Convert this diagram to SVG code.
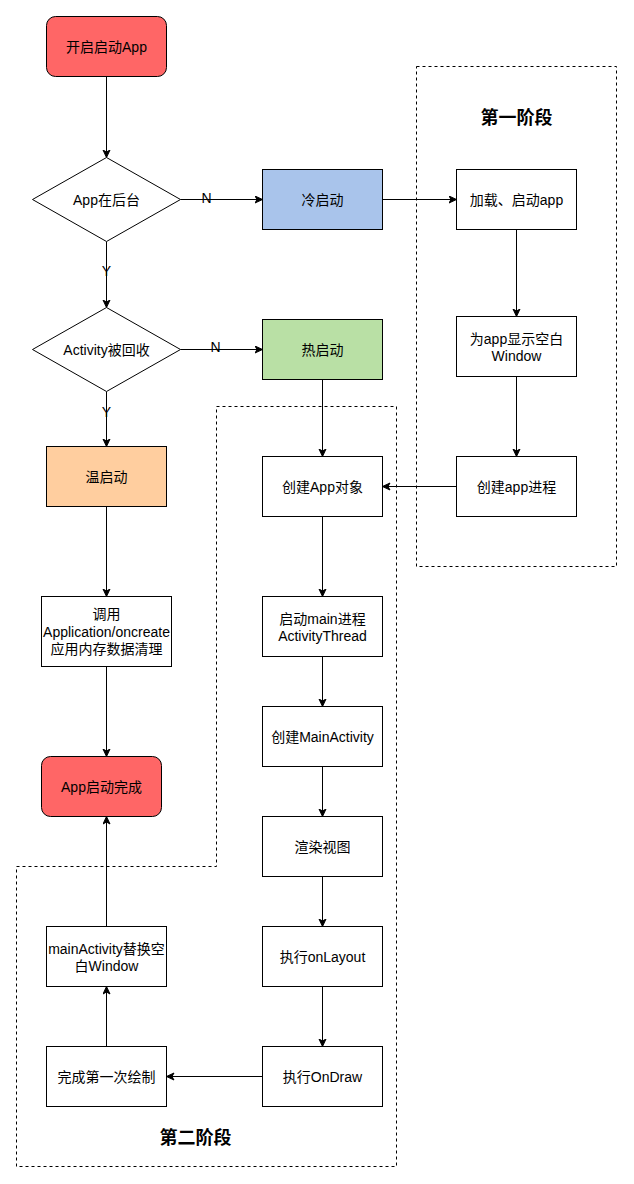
<svg xmlns="http://www.w3.org/2000/svg" width="634" height="1184" viewBox="0 0 634 1184">
<style>
.box{stroke:#000;stroke-width:1;}
.t{font-family:"Liberation Sans","Noto Sans CJK SC",sans-serif;font-size:14px;fill:#000;text-anchor:middle;}
.l{font-family:"Liberation Sans","Noto Sans CJK SC",sans-serif;font-size:14px;fill:#000;text-anchor:middle;}
.b{font-family:"Liberation Sans","Noto Sans CJK SC",sans-serif;font-size:18px;font-weight:bold;fill:#000;text-anchor:middle;}
.e{stroke:#000;stroke-width:1;fill:none;marker-end:url(#arr);}
.d{stroke:#000;stroke-width:1;fill:none;stroke-dasharray:3 3;}
</style>
<defs>
<marker id="arr" markerUnits="userSpaceOnUse" markerWidth="10" markerHeight="10" refX="8" refY="4" orient="auto">
<path d="M0.5,0.5 L8,4 L0.5,7.5 L2.5,4 Z" fill="#000" stroke="#000" stroke-width="1"/>
</marker>
</defs>
<rect width="634" height="1184" fill="#fff"/>
<g transform="translate(0.5,0.5)">
<g id="stage1-frame"><rect class="d" x="416" y="66" width="200" height="500"/><text class="b" x="516" y="123">第一阶段</text></g>
<g id="stage2-frame"><path class="d" d="M216,406 L396,406 L396,1166 L16,1166 L16,866 L216,866 Z"/><text class="b" x="195" y="1143">第二阶段</text></g>

<g id="connectors">
<path class="e" d="M106,76 L106,157"/>
<path class="e" d="M180,199 L262,199"/>
<text class="l" x="206" y="202">N</text>
<path class="e" d="M106,241 L106,307"/>
<text class="l" x="106" y="275">Y</text>
<path class="e" d="M180,349 L262,349"/>
<text class="l" x="215" y="351">N</text>
<path class="e" d="M106,391 L106,446"/>
<text class="l" x="106" y="416">Y</text>
<path class="e" d="M382,199 L456,199"/>
<path class="e" d="M516,229 L516,316"/>
<path class="e" d="M516,376 L516,456"/>
<path class="e" d="M456,486 L382,486"/>
<path class="e" d="M322,379 L322,456"/>
<path class="e" d="M322,516 L322,596"/>
<path class="e" d="M322,656 L322,706"/>
<path class="e" d="M322,766 L322,816"/>
<path class="e" d="M322,876 L322,926"/>
<path class="e" d="M322,986 L322,1046"/>
<path class="e" d="M262,1076 L166,1076"/>
<path class="e" d="M106,1046 L106,986"/>
<path class="e" d="M106,926 L106,816"/>
<path class="e" d="M106,506 L106,596"/>
<path class="e" d="M106,666 L106,756"/>
</g>

<g id="start"><rect class="box" x="46" y="16" width="120" height="60" rx="9" fill="#FF6666"/><text class="t" x="106" y="51">开启启动App</text></g>
<g id="d1"><path class="box" d="M106,157 L180,199 L106,241 L32,199 Z" fill="#fff"/><text class="t" x="106" y="204">App在后台</text></g>
<g id="d2"><path class="box" d="M106,307 L180,349 L106,391 L32,349 Z" fill="#fff"/><text class="t" x="106" y="354">Activity被回收</text></g>
<g id="cold"><rect class="box" x="262" y="169" width="120" height="60" fill="#A9C4EB"/><text class="t" x="322" y="204">冷启动</text></g>
<g id="hot"><rect class="box" x="262" y="319" width="120" height="60" fill="#B9E0A5"/><text class="t" x="322" y="354">热启动</text></g>
<g id="warm"><rect class="box" x="46" y="446" width="120" height="60" fill="#FFCE9F"/><text class="t" x="106" y="481">温启动</text></g>
<g id="oncreate"><rect class="box" x="41" y="596" width="130" height="70" fill="#fff"/><text class="t" x="106" y="618">调用</text><text class="t" x="106" y="636">Application/oncreate</text><text class="t" x="106" y="653">应用内存数据清理</text></g>
<g id="done"><rect class="box" x="41" y="756" width="120" height="60" rx="9" fill="#FF6666"/><text class="t" x="101" y="791">App启动完成</text></g>
<g id="load"><rect class="box" x="456" y="169" width="120" height="60" fill="#fff"/><text class="t" x="516" y="204">加载、启动app</text></g>
<g id="blank"><rect class="box" x="456" y="316" width="120" height="60" fill="#fff"/><text class="t" x="516" y="343">为app显示空白</text><text class="t" x="516" y="360">Window</text></g>
<g id="proc"><rect class="box" x="456" y="456" width="120" height="60" fill="#fff"/><text class="t" x="516" y="491">创建app进程</text></g>
<g id="appobj"><rect class="box" x="262" y="456" width="120" height="60" fill="#fff"/><text class="t" x="322" y="491">创建App对象</text></g>
<g id="main"><rect class="box" x="262" y="596" width="120" height="60" fill="#fff"/><text class="t" x="322" y="623">启动main进程</text><text class="t" x="322" y="640">ActivityThread</text></g>
<g id="mainact"><rect class="box" x="262" y="706" width="120" height="60" fill="#fff"/><text class="t" x="322" y="741">创建MainActivity</text></g>
<g id="render"><rect class="box" x="262" y="816" width="120" height="60" fill="#fff"/><text class="t" x="322" y="851">渲染视图</text></g>
<g id="layout"><rect class="box" x="262" y="926" width="120" height="60" fill="#fff"/><text class="t" x="322" y="961">执行onLayout</text></g>
<g id="draw"><rect class="box" x="262" y="1046" width="120" height="60" fill="#fff"/><text class="t" x="322" y="1081">执行OnDraw</text></g>
<g id="first"><rect class="box" x="46" y="1046" width="120" height="60" fill="#fff"/><text class="t" x="106" y="1081">完成第一次绘制</text></g>
<g id="replace"><rect class="box" x="46" y="926" width="120" height="60" fill="#fff"/><text class="t" x="106" y="953">mainActivity替换空</text><text class="t" x="106" y="970">白Window</text></g>
</g>
</svg>
